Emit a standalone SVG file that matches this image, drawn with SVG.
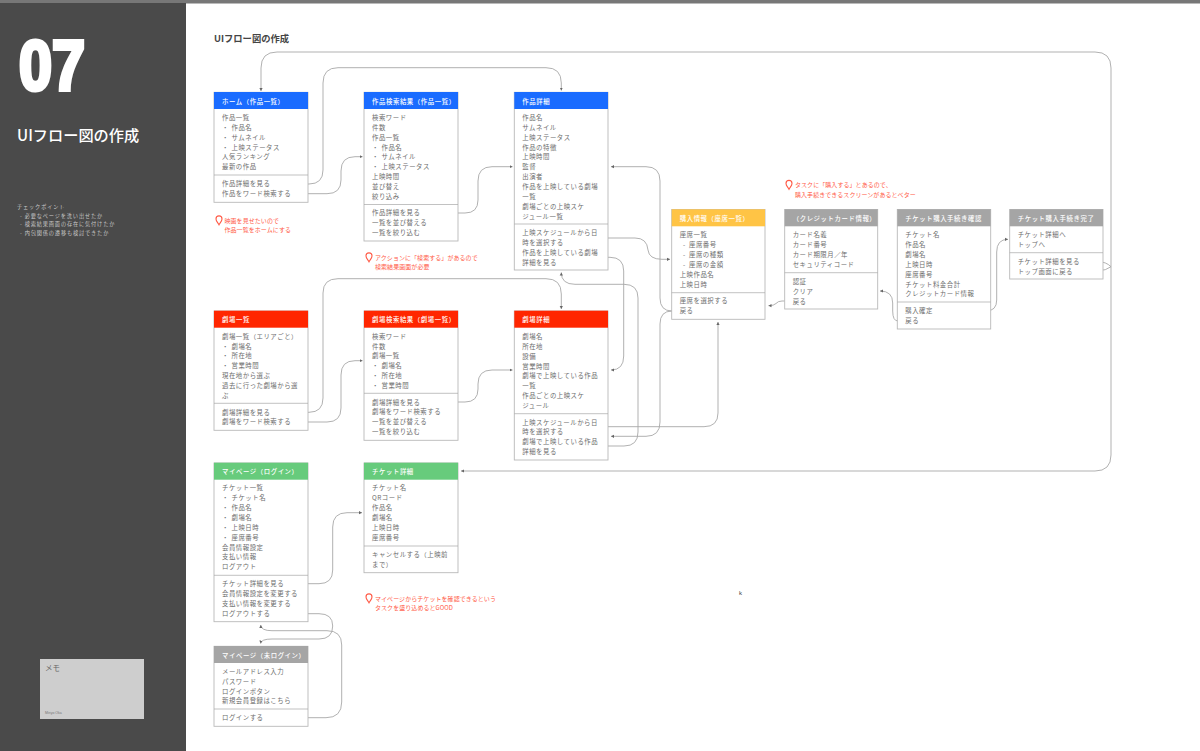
<svg xmlns="http://www.w3.org/2000/svg" width="1200" height="751" viewBox="0 0 1200 751">
<style>
text{font-family:"Noto Sans CJK JP","Liberation Sans",sans-serif}
.box{fill:#fff;stroke:#b9b9b9;stroke-width:.9}
.div{stroke:#a8a8a8;stroke-width:.7;fill:none}
.t{font-size:6.4px;letter-spacing:.52px;fill:#6c6c6c}
.h{font-size:6.4px;letter-spacing:.58px;fill:#fff;font-weight:500}
.n{font-size:6px;letter-spacing:.06px;fill:#ff5a46}
.c{fill:none;stroke:#a8a8a8;stroke-width:.9}
.a{marker-end:url(#arr)}
.pin{fill:none;stroke:#ff5a46;stroke-width:1.1}
.blue{fill:#1a6cff}.red{fill:#ff2600}.green{fill:#67cb7c}.yellow{fill:#ffc445}.gray{fill:#a5a5a5}
.s{font-size:5.2px;letter-spacing:.85px;fill:#c9c9c9}
</style>
<defs>
<marker id="arr" markerUnits="userSpaceOnUse" markerWidth="4" markerHeight="4" refX="3" refY="2" orient="auto"><path d="M0 .4L3 2L0 3.6Z" fill="#666"/></marker>
<g id="pinIcon"><path class="pin" d="M0 4.2C-.8 2.4-3 .8-3-1.6A3 3 0 1 1 3-1.6C3 .8 .8 2.4 0 4.2Z"/></g>
</defs>
<rect width="1200" height="751" fill="#fff"/>
<rect width="1200" height="3.5" fill="#777"/>
<rect y="3" width="186" height="748" fill="#4a4a4a"/>
<text x="19" y="90" font-size="71" font-weight="700" fill="#fff" stroke="#fff" stroke-width="4.2" textLength="66" lengthAdjust="spacingAndGlyphs" style="font-family:'Liberation Sans',sans-serif">07</text>
<text x="17" y="140.500" font-size="15.200" font-weight="500" fill="#fff">UIフロー図の作成</text>
<text class="s" x="17" y="209">チェックポイント</text>
<text class="s" x="20" y="217.500">-  必要なページを洗い出せたか</text>
<text class="s" x="20" y="226">-  検索結果画面の存在に気付けたか</text>
<text class="s" x="20" y="235">-  内包関係の遷移も検討できたか</text>
<rect x="40" y="659" width="104" height="60" fill="#cecece"/>
<text x="45" y="671" font-size="7.500" fill="#666">メモ</text>
<text x="45" y="713.500" font-size="3.500" fill="#777" style="font-family:'Liberation Sans',sans-serif">Miriyo Oka</text>
<text x="214" y="41.500" font-size="9.300" font-weight="700" fill="#444">UIフロー図の作成</text>

<g id="connectors">
<path class="c a" d="M1111 266V68Q1111 52 1095 52H277Q261 52 261 68V91"/>
<path class="c a" d="M1111 266V455Q1111 471 1095 471H461"/>
<path class="c" d="M1098 261.700Q1106 261.700 1111 266.700Q1106 270.700 1098 270.700"/>
<path class="c a" d="M302.700 184H309Q323 184 323 170V83Q323 67.700 338 67.700H546Q561.300 67.700 561.300 83V90.500"/>
<path class="c a" d="M302.700 193.700H327Q341 193.700 341 180V171Q341 156.700 355 156.700H362.500"/>
<path class="c a" d="M452.700 213H465Q478 213 478 200V181Q478 166.700 492 166.700H512.500"/>
<path class="c a" d="M603 238H635Q647 238 648 250Q649 259.300 662 259.300H670"/>
<path class="c a" d="M603 257.300H610Q623.700 257.300 623.700 271V356Q623.700 370 611 370"/>
<path class="c a" d="M671 311H672Q660 311 660 298V181Q660 166.700 646 166.700H611"/>
<path class="c a" d="M671 311H672Q660 311 660 324V422Q660 436.300 646 436.300H611"/>
<path class="c a" d="M302.700 412.300H309Q323 412.300 323 398V293Q323 278.700 338 278.700H546Q561.300 278.700 561.300 294V309"/>
<path class="c a" d="M302.700 422H327Q341 422 341 408V375Q341 360.700 355 360.700H362.500"/>
<path class="c a" d="M452.700 402H465Q478 402 478 389V384Q478 370 492 370H512.500"/>
<path class="c a" d="M603 426.700H704Q718 426.700 718 413V322"/>
<path class="c a" d="M603 446H624Q638 446 638 432V298Q638 284.300 624 284.300H575Q561.300 284.300 561.300 272.500"/>
<path class="c a" d="M788 301H782Q778 301 776 303.500Q774 305.700 768.500 305.700"/>
<path class="c a" d="M898 321Q892.700 321 892.700 311V303Q892.700 291 880 291"/>
<path class="c a" d="M986 311Q996.700 311 996.700 300V252Q996.700 239.300 1008 239.300"/>
<path class="c a" d="M302.700 583.700H319Q332.700 583.700 332.700 570V527Q332.700 512.700 347 512.700H362"/>
<path class="c a" d="M302.700 613.700H319Q332.700 613.700 332.700 626Q332.700 639 319 639H272Q261 639 260.700 643.500"/>
<path class="c a" d="M302.700 717.700H326Q341.700 717.700 341.700 702V645Q341.700 630.700 327 630.700H272Q261 630.700 260.700 625"/>
</g>

<g id="home"><rect class="box" x="214" y="92.300" width="94" height="110"/><rect class="blue" x="214" y="92" width="94" height="17"/><line class="div" x1="214" x2="308" y1="175" y2="175"/>
<text class="h" x="222" y="103.500">ホーム（作品一覧）</text>
<text class="t" y="110.150"><tspan x="222" dy="9.850">作品一覧</tspan><tspan x="222" dy="9.850">・</tspan><tspan x="231.500">作品名</tspan><tspan x="222" dy="9.850">・</tspan><tspan x="231.500">サムネイル</tspan><tspan x="222" dy="9.850">・</tspan><tspan x="231.500">上映ステータス</tspan><tspan x="222" dy="9.850">人気ランキング</tspan><tspan x="222" dy="9.850">最新の作品</tspan></text>
<text class="t" y="176.500"><tspan x="222" dy="9.850">作品詳細を見る</tspan><tspan x="222" dy="9.850">作品をワード検索する</tspan></text></g>

<g id="work-search"><rect class="box" x="364" y="92.300" width="94" height="148.700"/><rect class="blue" x="364" y="92" width="94" height="17"/><line class="div" x1="364" x2="458" y1="204.500" y2="204.500"/>
<text class="h" x="372" y="103.500">作品検索結果（作品一覧）</text>
<text class="t" y="110.150"><tspan x="372" dy="9.850">検索ワード</tspan><tspan x="372" dy="9.850">件数</tspan><tspan x="372" dy="9.850">作品一覧</tspan><tspan x="372" dy="9.850">・</tspan><tspan x="381.500">作品名</tspan><tspan x="372" dy="9.850">・</tspan><tspan x="381.500">サムネイル</tspan><tspan x="372" dy="9.850">・</tspan><tspan x="381.500">上映ステータス</tspan><tspan x="372" dy="9.850">上映時間</tspan><tspan x="372" dy="9.850">並び替え</tspan><tspan x="372" dy="9.850">絞り込み</tspan></text>
<text class="t" y="205.500"><tspan x="372" dy="9.850">作品詳細を見る</tspan><tspan x="372" dy="9.850">一覧を並び替える</tspan><tspan x="372" dy="9.850">一覧を絞り込む</tspan></text></g>

<g id="work-detail"><rect class="box" x="514.300" y="92.300" width="93.700" height="177.700"/><rect class="blue" x="514.300" y="92" width="93.700" height="17"/><line class="div" x1="514.300" x2="608" y1="224" y2="224"/>
<text class="h" x="522.300" y="103.500">作品詳細</text>
<text class="t" y="110.150"><tspan x="522.300" dy="9.850">作品名</tspan><tspan x="522.300" dy="9.850">サムネイル</tspan><tspan x="522.300" dy="9.850">上映ステータス</tspan><tspan x="522.300" dy="9.850">作品の特徴</tspan><tspan x="522.300" dy="9.850">上映時間</tspan><tspan x="522.300" dy="9.850">監督</tspan><tspan x="522.300" dy="9.850">出演者</tspan><tspan x="522.300" dy="9.850">作品を上映している劇場</tspan><tspan x="522.300" dy="9.850">一覧</tspan><tspan x="522.300" dy="9.850">劇場ごとの上映スケ</tspan><tspan x="522.300" dy="9.850">ジュール一覧</tspan></text>
<text class="t" y="225.200"><tspan x="522.300" dy="9.850">上映スケジュールから日</tspan><tspan x="522.300" dy="9.850">時を選択する</tspan><tspan x="522.300" dy="9.850">作品を上映している劇場</tspan><tspan x="522.300" dy="9.850">詳細を見る</tspan></text></g>

<g id="purchase"><rect class="box" x="671.700" y="209.500" width="93.300" height="109.800"/><rect class="yellow" x="671.700" y="209.300" width="93.300" height="17"/><line class="div" x1="671.700" x2="765" y1="292.700" y2="292.700"/>
<text class="h" x="679.700" y="220.800">購入情報（座席一覧）</text>
<text class="t" y="227.500"><tspan x="679.700" dy="9.850">座席一覧</tspan><tspan x="683" dy="9.850">-</tspan><tspan x="689">座席番号</tspan><tspan x="683" dy="9.850">-</tspan><tspan x="689">座席の種類</tspan><tspan x="683" dy="9.850">-</tspan><tspan x="689">座席の金額</tspan><tspan x="679.700" dy="9.850">上映作品名</tspan><tspan x="679.700" dy="9.850">上映日時</tspan></text>
<text class="t" y="293.500"><tspan x="679.700" dy="9.850">座席を選択する</tspan><tspan x="679.700" dy="9.850">戻る</tspan></text></g>

<g id="credit"><rect class="box" x="784.700" y="209.500" width="93" height="99.500"/><rect class="gray" x="784.700" y="209.300" width="93" height="17"/><line class="div" x1="784.700" x2="877.700" y1="272.700" y2="272.700"/>
<text class="h" x="792.700" y="220.800">（クレジットカード情報）</text>
<text class="t" y="227.500"><tspan x="792.700" dy="9.850">カード名義</tspan><tspan x="792.700" dy="9.850">カード番号</tspan><tspan x="792.700" dy="9.850">カード期限月／年</tspan><tspan x="792.700" dy="9.850">セキュリティコード</tspan></text>
<text class="t" y="274.500"><tspan x="792.700" dy="9.850">認証</tspan><tspan x="792.700" dy="9.850">クリア</tspan><tspan x="792.700" dy="9.850">戻る</tspan></text></g>

<g id="confirm"><rect class="box" x="897.300" y="209.500" width="93.400" height="119.500"/><rect class="gray" x="897.300" y="209.300" width="93.400" height="17"/><line class="div" x1="897.300" x2="990.700" y1="302" y2="302"/>
<text class="h" x="905.300" y="220.800">チケット購入手続き確認</text>
<text class="t" y="227.500"><tspan x="905.300" dy="9.850">チケット名</tspan><tspan x="905.300" dy="9.850">作品名</tspan><tspan x="905.300" dy="9.850">劇場名</tspan><tspan x="905.300" dy="9.850">上映日時</tspan><tspan x="905.300" dy="9.850">座席番号</tspan><tspan x="905.300" dy="9.850">チケット料金合計</tspan><tspan x="905.300" dy="9.850">クレジットカード情報</tspan></text>
<text class="t" y="303.500"><tspan x="905.300" dy="9.850">購入確定</tspan><tspan x="905.300" dy="9.850">戻る</tspan></text></g>

<g id="complete"><rect class="box" x="1009.700" y="209.500" width="93.300" height="69.500"/><rect class="gray" x="1009.700" y="209.300" width="93.300" height="17"/><line class="div" x1="1009.700" x2="1103" y1="252.700" y2="252.700"/>
<text class="h" x="1017.700" y="220.800">チケット購入手続き完了</text>
<text class="t" y="227.500"><tspan x="1017.700" dy="9.850">チケット詳細へ</tspan><tspan x="1017.700" dy="9.850">トップへ</tspan></text>
<text class="t" y="254.500"><tspan x="1017.700" dy="9.850">チケット詳細を見る</tspan><tspan x="1017.700" dy="9.850">トップ画面に戻る</tspan></text></g>

<g id="theater"><rect class="box" x="214" y="311" width="94" height="119.300"/><rect class="red" x="214" y="310.700" width="94" height="17"/><line class="div" x1="214" x2="308" y1="403.300" y2="403.300"/>
<text class="h" x="222" y="322.200">劇場一覧</text>
<text class="t" y="328.900"><tspan x="222" dy="9.850">劇場一覧（エリアごと）</tspan><tspan x="222" dy="9.850">・</tspan><tspan x="231.500">劇場名</tspan><tspan x="222" dy="9.850">・</tspan><tspan x="231.500">所在地</tspan><tspan x="222" dy="9.850">・</tspan><tspan x="231.500">営業時間</tspan><tspan x="222" dy="9.850">現在地から選ぶ</tspan><tspan x="222" dy="9.850">過去に行った劇場から選</tspan><tspan x="222" dy="9.850">ぶ</tspan></text>
<text class="t" y="404.700"><tspan x="222" dy="9.850">劇場詳細を見る</tspan><tspan x="222" dy="9.850">劇場をワード検索する</tspan></text></g>

<g id="theater-search"><rect class="box" x="364" y="311" width="94" height="129.300"/><rect class="red" x="364" y="310.700" width="94" height="17"/><line class="div" x1="364" x2="458" y1="393.300" y2="393.300"/>
<text class="h" x="372" y="322.200">劇場検索結果（劇場一覧）</text>
<text class="t" y="328.900"><tspan x="372" dy="9.850">検索ワード</tspan><tspan x="372" dy="9.850">件数</tspan><tspan x="372" dy="9.850">劇場一覧</tspan><tspan x="372" dy="9.850">・</tspan><tspan x="381.500">劇場名</tspan><tspan x="372" dy="9.850">・</tspan><tspan x="381.500">所在地</tspan><tspan x="372" dy="9.850">・</tspan><tspan x="381.500">営業時間</tspan></text>
<text class="t" y="394.700"><tspan x="372" dy="9.850">劇場詳細を見る</tspan><tspan x="372" dy="9.850">劇場をワード検索する</tspan><tspan x="372" dy="9.850">一覧を並び替える</tspan><tspan x="372" dy="9.850">一覧を絞り込む</tspan></text></g>

<g id="theater-detail"><rect class="box" x="514.300" y="311" width="93.700" height="149"/><rect class="red" x="514.300" y="310.700" width="93.700" height="17"/><line class="div" x1="514.300" x2="608" y1="413.700" y2="413.700"/>
<text class="h" x="522.300" y="322.200">劇場詳細</text>
<text class="t" y="329.200"><tspan x="522.300" dy="9.850">劇場名</tspan><tspan x="522.300" dy="9.850">所在地</tspan><tspan x="522.300" dy="9.850">設備</tspan><tspan x="522.300" dy="9.850">営業時間</tspan><tspan x="522.300" dy="9.850">劇場で上映している作品</tspan><tspan x="522.300" dy="9.850">一覧</tspan><tspan x="522.300" dy="9.850">作品ごとの上映スケ</tspan><tspan x="522.300" dy="9.850">ジュール</tspan></text>
<text class="t" y="414.700"><tspan x="522.300" dy="9.850">上映スケジュールから日</tspan><tspan x="522.300" dy="9.850">時を選択する</tspan><tspan x="522.300" dy="9.850">劇場で上映している作品</tspan><tspan x="522.300" dy="9.850">詳細を見る</tspan></text></g>

<g id="mypage"><rect class="box" x="214" y="463" width="94" height="158.700"/><rect class="green" x="214" y="462.700" width="94" height="17"/><line class="div" x1="214" x2="308" y1="575.300" y2="575.300"/>
<text class="h" x="222" y="474.200">マイページ（ログイン）</text>
<text class="t" y="480.600"><tspan x="222" dy="9.850">チケット一覧</tspan><tspan x="222" dy="9.850">・</tspan><tspan x="231.500">チケット名</tspan><tspan x="222" dy="9.850">・</tspan><tspan x="231.500">作品名</tspan><tspan x="222" dy="9.850">・</tspan><tspan x="231.500">劇場名</tspan><tspan x="222" dy="9.850">・</tspan><tspan x="231.500">上映日時</tspan><tspan x="222" dy="9.850">・</tspan><tspan x="231.500">座席番号</tspan><tspan x="222" dy="9.850">会員情報設定</tspan><tspan x="222" dy="9.850">支払い情報</tspan><tspan x="222" dy="9.850">ログアウト</tspan></text>
<text class="t" y="576.500"><tspan x="222" dy="9.850">チケット詳細を見る</tspan><tspan x="222" dy="9.850">会員情報設定を変更する</tspan><tspan x="222" dy="9.850">支払い情報を変更する</tspan><tspan x="222" dy="9.850">ログアウトする</tspan></text></g>

<g id="ticket"><rect class="box" x="364" y="463" width="94" height="109.700"/><rect class="green" x="364" y="462.700" width="94" height="17"/><line class="div" x1="364" x2="458" y1="546" y2="546"/>
<text class="h" x="372" y="474.200">チケット詳細</text>
<text class="t" y="480.600"><tspan x="372" dy="9.850">チケット名</tspan><tspan x="372" dy="9.850">QRコード</tspan><tspan x="372" dy="9.850">作品名</tspan><tspan x="372" dy="9.850">劇場名</tspan><tspan x="372" dy="9.850">上映日時</tspan><tspan x="372" dy="9.850">座席番号</tspan></text>
<text class="t" y="547"><tspan x="372" dy="9.850">キャンセルする（上映前</tspan><tspan x="372" dy="9.850">まで）</tspan></text></g>

<g id="mypage-guest"><rect class="box" x="214" y="646.300" width="94" height="80"/><rect class="gray" x="214" y="646" width="94" height="17"/><line class="div" x1="214" x2="308" y1="709" y2="709"/>
<text class="h" x="222" y="657.500">マイページ（未ログイン）</text>
<text class="t" y="664"><tspan x="222" dy="9.850">メールアドレス入力</tspan><tspan x="222" dy="9.850">パスワード</tspan><tspan x="222" dy="9.850">ログインボタン</tspan><tspan x="222" dy="9.850">新規会員登録はこちら</tspan></text>
<text class="t" y="710.500"><tspan x="222" dy="9.850">ログインする</tspan></text></g>

<g id="note-home"><use href="#pinIcon" x="219" y="220.500"/><text class="n" x="224.500" y="222.500">映画を見せたいので</text><text class="n" x="224.500" y="232">作品一覧をホームにする</text></g>
<g id="note-search"><use href="#pinIcon" x="369" y="257.500"/><text class="n" x="375" y="259.500">アクションに「検索する」があるので</text><text class="n" x="375" y="269">検索結果画面が必要</text></g>
<g id="note-buy"><use href="#pinIcon" x="789" y="185"/><text class="n" x="795" y="187">タスクに「購入する」とあるので、</text><text class="n" x="795" y="196.500">購入手続きできるスクリーンがあるとベター</text></g>
<g id="note-ticket"><use href="#pinIcon" x="369" y="598.500"/><text class="n" x="375" y="600.500">マイページからチケットを確認できるという</text><text class="n" x="375" y="610">タスクを盛り込めるとGOOD</text></g>
<text x="739" y="595" font-size="6" fill="#444" style="font-family:'Liberation Sans',sans-serif">k</text>
</svg>
